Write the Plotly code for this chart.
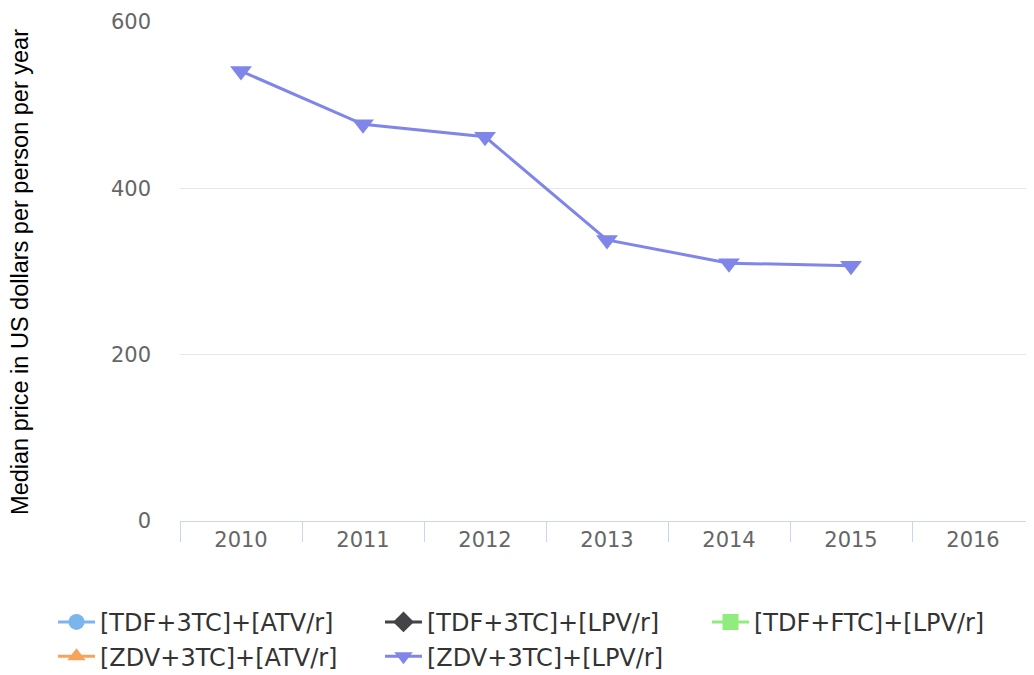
import plotly.graph_objects as go

years = ["2010", "2011", "2012", "2013", "2014", "2015", "2016"]
tdf_3tc_atv = [None, None, None, None, None, None, None]
tdf_3tc_lpv = [None, None, None, None, None, None, None]
tdf_ftc_lpv = [None, None, None, None, None, None, None]
zdv_3tc_atv = [None, None, None, None, None, None, None]
zdv_3tc_lpv = [541, 477, 462, 338, 310, 307, None]

series_names = ["[TDF+3TC]+[ATV/r]", "[TDF+3TC]+[LPV/r]", "[TDF+FTC]+[LPV/r]",
                "[ZDV+3TC]+[ATV/r]", "[ZDV+3TC]+[LPV/r]"]
series_vals = [tdf_3tc_atv, tdf_3tc_lpv, tdf_ftc_lpv, zdv_3tc_atv, zdv_3tc_lpv]
colors = ["#7cb5ec", "#434348", "#90ed7d", "#f7a35c", "#8085e9"]
symbols = ["circle", "diamond", "square", "triangle-up", "triangle-down"]

fig = go.Figure()
for name, vals, c, s in zip(series_names, series_vals, colors, symbols):
    fig.add_trace(go.Scatter(
        x=years, y=vals, name=name, mode="lines+markers",
        line=dict(color=c, width=3),
        marker=dict(symbol=s, size=19, color=c),
        connectgaps=False,
    ))

fig.update_layout(
    width=1026, height=675,
    margin=dict(l=172, r=0, t=14, b=162),
    plot_bgcolor="white", paper_bgcolor="white",
    font=dict(family="DejaVu Sans", color="#666666"),
    showlegend=True,
    legend=dict(
        orientation="h", xref="paper", yref="paper",
        x=-0.1463, y=-0.158, xanchor="left", yanchor="top",
        font=dict(size=24, color="#333333"),
        entrywidth=275, entrywidthmode="pixels",
        itemwidth=37,
    ),
    xaxis=dict(
        type="category", range=[-0.5, 6.5],
        showline=True, linecolor="#ccd6eb", linewidth=1,
        ticks="outside", tickson="boundaries", ticklen=20, tickcolor="#ccd6eb",
        showgrid=False, tickfont=dict(size=21, color="#666666"),
        automargin=False,
    ),
    yaxis=dict(
        range=[0, 600], tickvals=[0, 200, 400, 600],
        showgrid=True, gridcolor="#e6e6e6", gridwidth=1,
        zeroline=False, showline=False,
        tickfont=dict(size=21, color="#666666"),
        ticklabelstandoff=28,
        automargin=False,
    ),
    annotations=[dict(
        text="Median price in US dollars per person per year",
        xref="paper", yref="paper", x=-0.188, y=0.5,
        xanchor="center", yanchor="middle", textangle=-90, showarrow=False,
        font=dict(family="Liberation Sans", size=23.5, color="#000000"),
    )],
)

fig.write_html("out.html")
